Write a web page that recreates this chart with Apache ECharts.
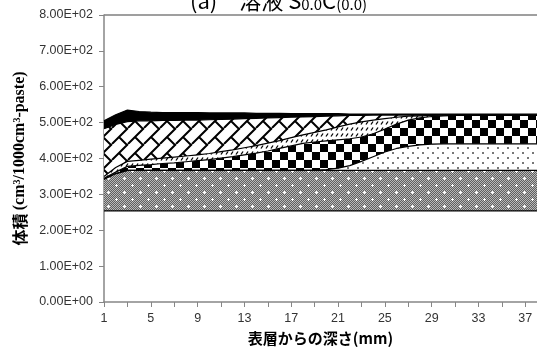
<!DOCTYPE html>
<html>
<head>
<meta charset="utf-8">
<script src="https://cdn.jsdelivr.net/npm/echarts@6/dist/echarts.min.js"></script>
<style>
  html, body { margin: 0; padding: 0; background: #fff; }
  #chart { width: 537px; height: 351px; }
</style>
</head>
<body>
<div id="chart"></div>
<script>
// Depth from the surface (mm)
const depth = ['1','2','3','4','5','6','7','8','9','10','11','12','13','14','15','16','17','18','19',
  '20','21','22','23','24','25','26','27','28','29','30','31','32','33','34','35','36','37','38'];

// Phase volumes, stacked from the bottom (cm3 / 1000 cm3 paste)
const unhydrated = [254,254,254,254,254,254,254,254,254,254,254,254,254,254,254,254,254,254,254,
  254,254,254,254,254,254,254,254,254,254,254,254,254,254,254,254,254,254,254];
const csh = [88,104,113,113,113,113,113,113,113,113,113,113,113,113,113,113,113,113,113,
  113,113,113,113,113,113,113,113,113,113,113,113,113,113,113,113,113,113,113];
const portlandite = [0,0,0,0,0,0,0,0,0,0,0,0,0,0,0,0,0,0,0,
  2,6,13,25,38,51,61,67,71,73,74,74,74,74,74,74,74,74,74];
const monosulfate = [3,4,11,14,16,19,21,24,27,30,34,38,43,48,54,61,68,75,79,
  80,79,75,68,64,64,68,73,75,77,78,79,79,79,79,79,79,79,79];
const ettringite = [5,13,14,14,15,15,16,16,16,17,18,19,20,21,22,22,23,24,27,
  31,36,41,42,38,29,19,11,6,3,2,1,1,1,1,1,1,1,1];
const porosity = [133,120,111,110,107,105,102,100,97,94,90,86,81,76,70,64,57,50,44,
  38,31,24,18,14,10,6,3,2,1,1,1,1,1,1,1,1,1,1];
const gypsum = [22,27,32,26,24,22,22,21,21,19,18,17,16,14,13,12,10,9,8,
  7,6,4,4,3,3,3,3,3,3,2,2,2,2,2,2,2,2,2];

const yTickLabels = ['0.00E+00','1.00E+02','2.00E+02','3.00E+02','4.00E+02',
  '5.00E+02','6.00E+02','7.00E+02','8.00E+02'];

// Repeating fill tiles
function tile(w, h, draw) {
  const c = document.createElement('canvas');
  c.width = w; c.height = h;
  const g = c.getContext('2d');
  g.fillStyle = '#fff';
  g.fillRect(0, 0, w, h);
  draw(g, w, h);
  return { image: c, repeat: 'repeat' };
}

const grayFill = tile(16, 14, (g, w, h) => {
  for (let y = 0; y < h; y++) {
    for (let x = 0; x < w; x++) {
      g.fillStyle = (x + y) % 2 ? '#606060' : '#b8b8b8';
      g.fillRect(x, y, 1, 1);
    }
  }
  g.fillStyle = '#fff';
  [[4, 3], [12, 10]].forEach(([x, y]) => {
    g.fillRect(x - 1, y, 3, 1);
    g.fillRect(x, y - 1, 1, 3);
  });
});

const dotFill = tile(10, 10, (g) => {
  g.fillStyle = '#777';
  g.fillRect(2, 2, 2, 2);
  g.fillRect(7, 7, 2, 2);
});

const checkFill = tile(16, 16, (g) => {
  g.fillStyle = '#000';
  g.fillRect(0, 0, 8, 8);
  g.fillRect(8, 8, 8, 8);
});

const tickFill = tile(5, 6, (g) => {
  g.strokeStyle = '#000';
  g.lineWidth = 1.3;
  g.beginPath();
  g.moveTo(1, 4.5);
  g.lineTo(3, 1.5);
  g.stroke();
});

const brickFill = tile(16, 16, (g) => {
  g.strokeStyle = '#000';
  g.lineWidth = 2;
  g.beginPath();
  [-16, 0, 16].forEach((k) => {
    g.moveTo(k + 16, 0);
    g.lineTo(k, 16);
  });
  g.moveTo(7, 9); g.lineTo(15, 17);
  g.moveTo(7, -7); g.lineTo(15, 1);
  g.stroke();
});

function layer(name, data, fill) {
  return {
    name,
    type: 'line',
    stack: 'vol',
    data,
    symbol: 'none',
    silent: true,
    lineStyle: { color: '#000', width: 1.2 },
    areaStyle: fill ? { color: fill, opacity: 1 } : { opacity: 0 }
  };
}

const chart = echarts.init(document.getElementById('chart'), null, { renderer: 'canvas' });

chart.setOption({
  animation: false,
  backgroundColor: '#fff',
  grid: { left: 104, right: 0, top: 15, bottom: 46 },
  graphic: [{
    type: 'text',
    left: 190,
    top: -10,
    silent: true,
    style: {
      text: '{m|(a)\u3000溶液 S}{s|0.0}{m|C}{s|(0.0)}',
      rich: {
        m: { fontFamily: 'Noto Sans CJK JP', fontSize: 22, fill: '#000', verticalAlign: 'bottom' },
        s: { fontFamily: 'Noto Sans CJK JP', fontSize: 15, fill: '#000', verticalAlign: 'bottom' }
      }
    }
  }],
  xAxis: {
    type: 'category',
    data: depth,
    boundaryGap: false,
    name: '表層からの深さ(mm)',
    nameLocation: 'middle',
    nameGap: 29,
    nameTextStyle: { fontFamily: 'Noto Sans CJK JP', fontWeight: 'bold', fontSize: 15, color: '#000' },
    axisLine: { show: true, lineStyle: { color: '#868686', width: 1.5 } },
    axisTick: { show: true, interval: 1, length: 5, lineStyle: { color: '#868686' } },
    axisLabel: { interval: 3, margin: 10, fontFamily: 'Liberation Sans', fontSize: 12.5, color: '#333' },
    splitLine: { show: false }
  },
  yAxis: {
    type: 'value',
    min: 0,
    max: 800,
    interval: 100,
    name: '{a|体積} {b|(cm}{c|3}{b|/1000cm}{c|3}{b|-paste)}',
    nameLocation: 'middle',
    nameGap: 75,
    nameTextStyle: {
      rich: {
        a: { fontFamily: 'Noto Sans CJK JP', fontWeight: 'bold', fontSize: 16, color: '#000' },
        b: { fontFamily: 'Liberation Serif', fontWeight: 'bold', fontSize: 16, color: '#000' },
        c: { fontFamily: 'Liberation Serif', fontWeight: 'bold', fontSize: 10, color: '#000', verticalAlign: 'top' }
      }
    },
    axisLine: { show: true, lineStyle: { color: '#868686', width: 1.5 } },
    axisTick: { show: true, length: 5, lineStyle: { color: '#868686' } },
    axisLabel: {
      margin: 11,
      fontFamily: 'Liberation Sans',
      fontSize: 12.5,
      color: '#333',
      formatter: (v) => yTickLabels[Math.round(v / 100)]
    },
    splitLine: {
      show: true,
      lineStyle: {
        color: ['rgba(0,0,0,0)','rgba(0,0,0,0)','rgba(0,0,0,0)','rgba(0,0,0,0)','rgba(0,0,0,0)',
          'rgba(0,0,0,0)','rgba(0,0,0,0)','rgba(0,0,0,0)','#7f7f7f'],
        width: 1.5
      }
    }
  },
  series: [
    layer('unhydrated', unhydrated, null),
    layer('csh', csh, grayFill),
    layer('portlandite', portlandite, dotFill),
    layer('monosulfate', monosulfate, checkFill),
    layer('ettringite', ettringite, tickFill),
    layer('porosity', porosity, brickFill),
    layer('gypsum', gypsum, '#000')
  ]
});
</script>
</body>
</html>
